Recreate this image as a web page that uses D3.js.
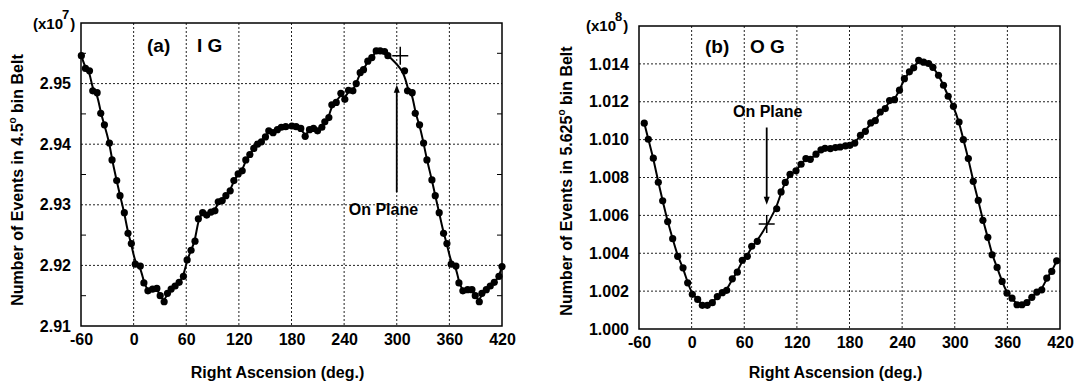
<!DOCTYPE html>
<html>
<head>
<meta charset="utf-8">
<script src="https://cdn.jsdelivr.net/npm/d3@7"></script>
<style>
  body { margin: 0; background: #fff; }
  text { font-family: "Liberation Sans", Arial, sans-serif; font-weight: bold; fill: #000; }
</style>
</head>
<body>
<svg id="fig" width="1077" height="382"></svg>
<script>
// shared x ticks (right ascension, deg.)
const raTicks = [-60, 0, 60, 120, 180, 240, 300, 360, 420];

// (a) I G  -- events in 4.5 deg bins, units of 1e7
const raA = [-59.6, -54.9, -50.3, -46.6, -41.6, -37.5, -33.3, -27.6, -24.6, -19.3, -15.5, -10.6, -6.4, -2.6,
  1.9, 7.6, 11.7, 16.3, 21.6, 26.5, 30.3, 34.8, 38.6, 42.8, 47.3, 51.9, 56.8, 61, 65.5, 70, 73.8, 78.7,
  83.3, 88.2, 92.7, 96.5, 101, 105.2, 110.1, 114.3, 119.2, 123.8, 127.9, 132.5, 137, 141.2, 145.7, 150.3,
  154.1, 159, 163.9, 168.4, 173.4, 180.4, 185.3, 190.6, 195.6, 200.5, 205.1, 209.7, 214.6, 218, 222.6,
  226, 231, 236.3, 240.8, 245, 250, 253.8, 258.3, 262.1, 267, 271.6, 276.6, 281.1, 286.1, 289.9,
  308.9, 312.3, 317.6, 321.1, 326, 330.6, 334.4, 340.1, 343.9, 348.4, 353.4, 357.2, 362.1, 367.5,
  370.9, 375.4, 380.8, 385.7, 389.5, 394.1, 397.1, 402.1, 406.6, 411.2, 416.5, 420];
const evA = [2.9546, 2.9525, 2.9521, 2.9488, 2.9485, 2.9451, 2.9432, 2.9402, 2.9374, 2.9340, 2.9315, 2.9287, 2.9253, 2.9236,
  2.9202, 2.9199, 2.9171, 2.9158, 2.9161, 2.9162, 2.9150, 2.9140, 2.9154, 2.9161, 2.9166, 2.9172, 2.9182, 2.9209, 2.9225, 2.9240, 2.9277, 2.9287,
  2.9283, 2.9288, 2.9290, 2.9305, 2.9307, 2.9315, 2.9323, 2.9340, 2.9351, 2.9356, 2.9374, 2.9383, 2.9393, 2.9400, 2.9404, 2.9412,
  2.9422, 2.9419, 2.9424, 2.9428, 2.9429, 2.9430, 2.9429, 2.9426, 2.9413, 2.9424, 2.9426, 2.9422, 2.9428, 2.9437, 2.9444,
  2.9465, 2.9469, 2.9484, 2.9474, 2.9489, 2.9488, 2.9500, 2.9518, 2.9523, 2.9537, 2.9543, 2.9554, 2.9554, 2.9553, 2.9546,
  2.9521, 2.9488, 2.9485, 2.9451, 2.9432, 2.9402, 2.9374, 2.9341, 2.9315, 2.9287, 2.9253, 2.9236, 2.9202, 2.9199,
  2.9171, 2.9158, 2.9160, 2.9160, 2.9150, 2.9140, 2.9154, 2.9160, 2.9166, 2.9172, 2.9182, 2.9198];
const yTicksA = [2.91, 2.92, 2.93, 2.94, 2.95];
const yMinorA = [2.915, 2.925, 2.935, 2.945, 2.955];
const planeA = [304, 2.9546];

// (b) O G  -- events in 5.625 deg bins, units of 1e8
const raB = [-54, -49.4, -43.7, -38, -33, -27.3, -21.6, -15.9, -9.8, -4.5, 0.8, 6.9, 12.2, 17.9, 23.6, 29.3,
  35, 40, 46.4, 52.1, 57.8, 63.5, 68.5, 74.9, 97, 102, 106.8, 112.2, 119, 124.8, 130.3, 135.3, 141.8,
  147.5, 152.1, 158.2, 164, 169.3, 175.4, 180.4, 186, 192.5, 198.1, 204.2, 209.4, 215.1, 220.8, 225.7,
  231.3, 237, 242.6, 248.3, 253.2, 258.9, 264.5, 270.2, 275.1, 281.5, 287.2, 292.5, 298.5, 304.9,
  309.8, 315.5, 321.1, 326.8, 332.1, 337.7, 342.6, 348.3, 354, 359.6, 365.3, 371, 376.6, 382.3,
  387.9, 393.6, 399.2, 404.9, 410.6, 416.2];
const evB = [1.01087, 1.01002, 1.00902, 1.00775, 1.00677, 1.00567, 1.00477, 1.00384, 1.00323, 1.00244, 1.00183, 1.00156, 1.00125, 1.00125, 1.00139, 1.00171,
  1.00192, 1.00204, 1.00265, 1.00300, 1.00363, 1.00384, 1.00437, 1.00463, 1.00635, 1.00724, 1.00774, 1.00817, 1.00835, 1.00870, 1.00900, 1.00896, 1.00923,
  1.00946, 1.00954, 1.00953, 1.00958, 1.00961, 1.00967, 1.00970, 1.00982, 1.01023, 1.01044, 1.01088, 1.01100, 1.01146, 1.01164, 1.01206,
  1.01211, 1.01261, 1.01322, 1.01358, 1.01379, 1.01419, 1.01409, 1.01402, 1.01382, 1.01340, 1.01287, 1.01229, 1.01176, 1.01093,
  1.01000, 1.00900, 1.00780, 1.00679, 1.00574, 1.00484, 1.00392, 1.00325, 1.00251, 1.00189, 1.00163, 1.00128, 1.00128, 1.00140,
  1.00167, 1.00195, 1.00207, 1.00269, 1.00304, 1.00360];
const yTicksB = [1.000, 1.002, 1.004, 1.006, 1.008, 1.010, 1.012, 1.014];
const planeB = [85.6, 1.00555];

const svg = d3.select('#fig');

function drawPanel(p) {
  const x = d3.scaleLinear().domain([-60, 420]).range([p.left, p.right]);
  const y = d3.scaleLinear().domain(p.yDomain).range([p.bottom, p.top]);
  const g = svg.append('g');

  // dotted grid
  g.selectAll('.gx').data(raTicks.slice(1, -1)).enter().append('line')
    .attr('x1', d => x(d)).attr('x2', d => x(d)).attr('y1', p.top).attr('y2', p.bottom)
    .attr('stroke', '#222').attr('stroke-width', 1).attr('stroke-dasharray', '2,2');
  g.selectAll('.gy').data(p.yTicks.filter(d => d > p.yDomain[0])).enter().append('line')
    .attr('x1', p.left).attr('x2', p.right).attr('y1', d => y(d)).attr('y2', d => y(d))
    .attr('stroke', '#222').attr('stroke-width', 1).attr('stroke-dasharray', '2,2');

  // minor ticks, inward on both sides
  (p.yMinor || []).forEach(v => {
    g.append('line').attr('x1', p.left).attr('x2', p.left + 5).attr('y1', y(v)).attr('y2', y(v)).attr('stroke', '#000');
    g.append('line').attr('x1', p.right).attr('x2', p.right - 5).attr('y1', y(v)).attr('y2', y(v)).attr('stroke', '#000');
  });

  // frame
  g.append('rect').attr('x', p.left).attr('y', p.top)
    .attr('width', p.right - p.left).attr('height', p.bottom - p.top)
    .attr('fill', 'none').attr('stroke', '#000').attr('stroke-width', 1.5);

  // axes labels
  const ax = g.append('g').attr('transform', `translate(0,${p.bottom})`)
    .call(d3.axisBottom(x).tickValues(raTicks).tickSize(0).tickPadding(8).tickFormat(d => String(d)));
  const ay = g.append('g').attr('transform', `translate(${p.left},0)`)
    .call(d3.axisLeft(y).tickValues(p.yTicks).tickSize(0).tickPadding(10).tickFormat(d3.format(p.fmt)));
  [ax, ay].forEach(a => {
    a.select('.domain').remove();
    a.selectAll('text').style('font-size', '16px').style('font-family', '"Liberation Sans", Arial, sans-serif')
      .style('font-weight', 'bold').attr('fill', '#000');
  });

  // data
  const pts = p.ra.map((d, i) => [d, p.ev[i]]);
  const clipId = 'clip' + p.id;
  svg.append('clipPath').attr('id', clipId).append('rect')
    .attr('x', p.left - 4).attr('y', p.top).attr('width', p.right - p.left + 8).attr('height', p.bottom - p.top);
  const dg = g.append('g').attr('clip-path', `url(#${clipId})`);
  dg.append('path').datum(pts)
    .attr('d', d3.line().x(d => x(d[0])).y(d => y(d[1])).curve(d3.curveBasis))
    .attr('fill', 'none').attr('stroke', '#000').attr('stroke-width', 2);
  dg.selectAll('circle').data(pts).enter().append('circle')
    .attr('cx', d => x(d[0])).attr('cy', d => y(d[1])).attr('r', 3.6).attr('fill', '#000');

  // "on plane" cross
  const cx = x(p.plane[0]), cy = y(p.plane[1]);
  g.append('path').attr('d', `M${cx - 8},${cy}H${cx + 8}M${cx},${cy - 9}V${cy + 9}`)
    .attr('stroke', '#000').attr('stroke-width', 1.5);

  // arrow
  const a0 = [x(p.arrow[0]), y(p.arrow[1])], a1 = [x(p.arrow[0]), y(p.arrow[2])];
  const dir = Math.sign(a1[1] - a0[1]);
  g.append('line').attr('x1', a0[0]).attr('x2', a1[0]).attr('y1', a0[1]).attr('y2', a1[1] - dir * 6)
    .attr('stroke', '#000').attr('stroke-width', 1.8);
  g.append('path').attr('d', `M${a1[0]},${a1[1]}L${a1[0] - 3},${a1[1] - dir * 8}L${a1[0] + 3},${a1[1] - dir * 8}Z`)
    .attr('fill', '#000');
  g.append('text').attr('x', x(p.note[0])).attr('y', y(p.note[1]))
    .style('font-size', '16px').text('On Plane');

  // panel label
  g.append('text').attr('x', p.label[0]).attr('y', p.label[1]).style('font-size', '19px').text(p.tag);
  g.append('text').attr('x', p.label[2]).attr('y', p.label[1]).style('font-size', '19px').text(p.name);

  // exponent
  const ex = g.append('text').attr('x', p.expo[0]).attr('y', p.expo[1]).style('font-size', '15px');
  ex.append('tspan').text('(x10');
  ex.append('tspan').attr('dy', -10).attr('dx', -1).style('font-size', '13px').text(p.power);
  ex.append('tspan').attr('dy', 10).attr('dx', 1).text(')');

  // axis titles
  g.append('text').attr('x', (p.left + p.right) / 2 - 14).attr('y', 378)
    .attr('text-anchor', 'middle').style('font-size', '16px').text('Right Ascension (deg.)');
  const yt = g.append('text').attr('transform', `translate(${p.ytx},${p.yty}) rotate(-90)`)
    .attr('text-anchor', 'middle').style('font-size', '16px');
  yt.append('tspan').text('Number of Events in ' + p.bin);
  yt.append('tspan').attr('dy', -7).style('font-size', '10px').text('o');
  yt.append('tspan').attr('dy', 7).text(' bin Belt');
}

drawPanel({
  id: 'a', left: 81, right: 502, top: 23, bottom: 326,
  yDomain: [2.91, 2.96], yTicks: yTicksA, yMinor: yMinorA, fmt: '.2f',
  ra: raA, ev: evA, plane: planeA,
  arrow: [300, 2.9321, 2.9498], note: [245.3, 2.9283],
  label: [147, 52, 197], tag: '(a)', name: 'I G',
  expo: [33, 29], power: '7',
  ytx: 23, yty: 180, bin: '4.5'
});

drawPanel({
  id: 'b', left: 639, right: 1060, top: 26, bottom: 329,
  yDomain: [1.000, 1.016], yTicks: yTicksB, fmt: '.3f',
  ra: raB, ev: evB, plane: planeB,
  arrow: [85.6, 1.01064, 1.00656], note: [47.2, 1.01117],
  label: [705, 53, 750], tag: '(b)', name: 'O G',
  expo: [586, 31], power: '8',
  ytx: 572, yty: 181, bin: '5.625'
});
</script>
</body>
</html>
